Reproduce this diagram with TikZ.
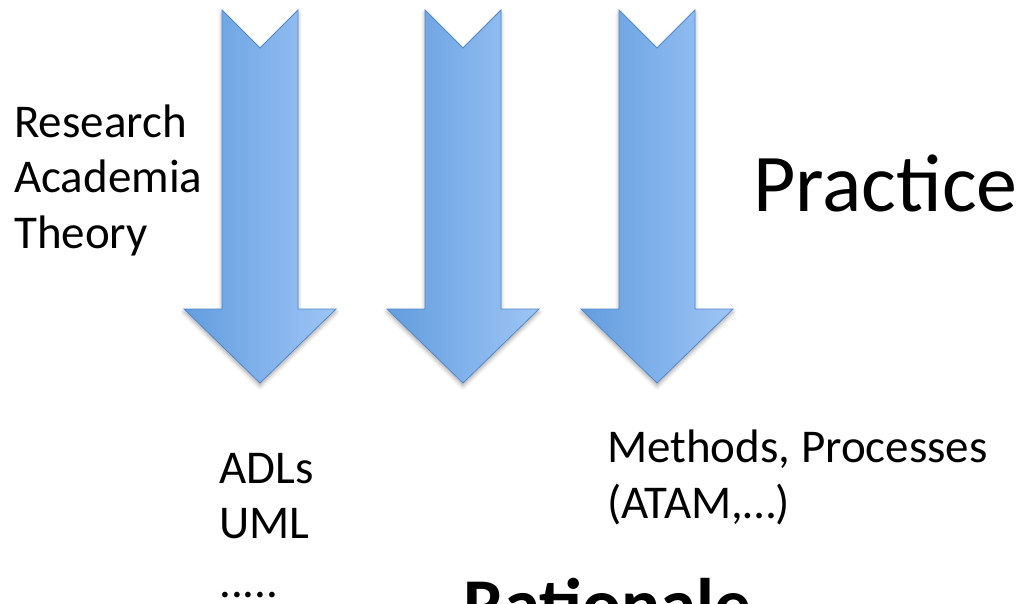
\documentclass[tikz,border=0pt]{standalone}
\usepackage{fontspec}
\setmainfont{Carlito}
\usetikzlibrary{shadows.blur}
\definecolor{arrowleft}{RGB}{98,157,222}
\definecolor{arrowright}{RGB}{158,197,246}
\definecolor{arrowedge}{RGB}{84,138,204}
\tikzset{
  blockarrow/.style={draw=arrowedge, line width=0.8pt, left color=arrowleft, right color=arrowright,
    blur shadow={shadow xshift=0pt, shadow yshift=-3pt, shadow blur radius=4pt, shadow opacity=35}},
  txt/.style={anchor=base west, inner sep=0pt, font=\fontsize{47}{56}\selectfont},
  bigtxt/.style={anchor=base west, inner sep=0pt, font=\fontsize{82}{96}\selectfont},
  boldtxt/.style={anchor=base west, inner sep=0pt, font=\fontsize{73}{86}\selectfont\bfseries}
}
\newcommand{\downarrowblock}[1]{%
  \path[blockarrow] (#1-38,10) -- (#1,48) -- (#1+38,10) -- (#1+38,309) -- (#1+76,309)
    -- (#1,383) -- (#1-76,309) -- (#1-38,309) -- cycle;}
\begin{document}
\begin{tikzpicture}[x=1pt,y=-1pt]
\useasboundingbox (0,0) rectangle (1024,603);
\clip (0,0) rectangle (1024,603);
\downarrowblock{260}
\downarrowblock{463}
\downarrowblock{657}
\node[txt] (research) at (14,137) {Research};
\node[txt] (academia) at (14,192) {Academia};
\node[txt] (theory) at (14,248) {Theory};
\node[bigtxt] (practice) at (753,211) {Practice};
\node[txt] (methods) at (607,462) {Methods, Processes};
\node[txt] (atam) at (607,518) {(ATAM,…)};
\node[txt] (adls) at (219,483) {ADLs};
\node[txt] (uml) at (219,538) {UML};
\node[txt] (dots) at (219,597) {.....};
\node[boldtxt] (rationale) at (463,629) {Rationale};
\end{tikzpicture}
\end{document}
